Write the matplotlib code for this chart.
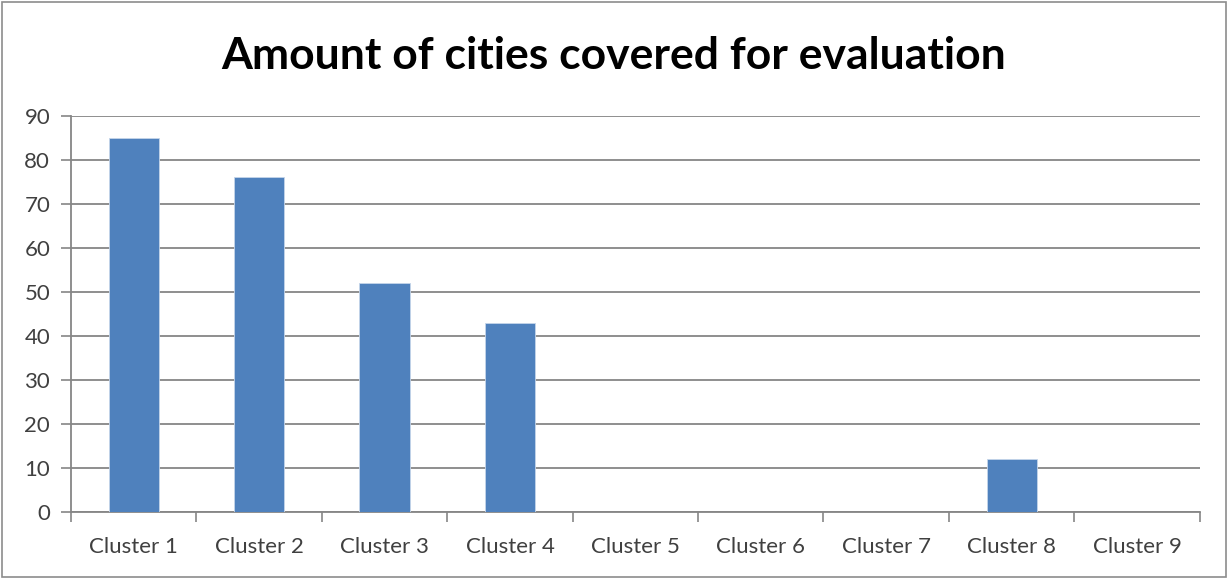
import matplotlib.pyplot as plt
import numpy as np
from matplotlib.patches import Rectangle

categories = ['Cluster 1', 'Cluster 2', 'Cluster 3', 'Cluster 4', 'Cluster 5',
              'Cluster 6', 'Cluster 7', 'Cluster 8', 'Cluster 9']
cities = [85, 76, 52, 43, 0, 0, 0, 12, 0]
yticks = [0, 10, 20, 30, 40, 50, 60, 70, 80, 90]

plt.rcParams['font.family'] = ['Lato', 'DejaVu Sans']
grey = '#868686'

fig = plt.figure(figsize=(12.28, 5.79), dpi=100)
ax = fig.add_axes([0.0578, 0.1163, 0.9192, 0.6837])

x = np.arange(len(categories))
ax.bar(x, cities, width=0.4, color='#4f81bd', edgecolor='#c5d5ea', linewidth=0.6, zorder=3)

ax.set_xlim(-0.5, len(categories) - 0.5)
ax.set_ylim(0, 90)
ax.set_yticks(yticks)
ax.tick_params(axis='y', length=7, color=grey, width=1.2, labelsize=16, labelcolor='#404040', pad=8)
ax.set_xticks(x)
ax.set_xticklabels(categories)
ax.set_xticks(np.arange(-0.5, len(categories)), minor=True)
ax.tick_params(axis='x', which='major', length=0, labelsize=16, labelcolor='#404040', pad=18)
ax.tick_params(axis='x', which='minor', length=7, color=grey, width=1.2)

ax.grid(axis='y', color=grey, linewidth=1.3, zorder=0)
for s in ['top', 'right']:
    ax.spines[s].set_visible(False)
for s in ['left', 'bottom']:
    ax.spines[s].set_color(grey)
    ax.spines[s].set_linewidth(1.3)

fig.text(0.5, 0.903, 'Amount of cities covered for evaluation', ha='center', va='center',
         fontsize=32, fontweight='bold', color='black')

fig.patches.append(Rectangle((0.002, 0.004), 0.996, 0.992, transform=fig.transFigure,
                             fill=False, edgecolor='#8c8c8c', linewidth=1.2))

plt.savefig('out.png', dpi=100)
plt.close('all')
